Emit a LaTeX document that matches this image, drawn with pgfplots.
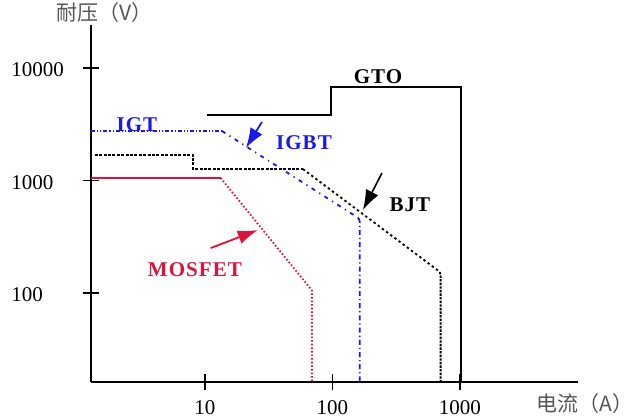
\documentclass[border=0pt]{standalone}
\usepackage{pgfplots}
\pgfplotsset{compat=1.18}
\usetikzlibrary{arrows.meta}
\usepackage{fontspec}
\setmainfont{Liberation Serif}
\newfontfamily\cjk{Noto Sans CJK SC}
\newfontfamily\lbl[LetterSpace=5]{Liberation Serif}
\definecolor{igbtblue}{RGB}{25,25,235}
\definecolor{mosred}{RGB}{220,20,60}
\definecolor{labgray}{RGB}{85,85,85}
\begin{document}
\begin{tikzpicture}
\useasboundingbox (-45.5pt,-17.5pt) rectangle (274.5pt,191pt);
\begin{axis}[
  at={(0,0)}, anchor=south west,
  scale only axis, width=243.5pt, height=178.5pt,
  xmode=log, ymode=log,
  xmin=1.28, xmax=8420, ymin=16.2, ymax=24100,
  axis x line*=bottom, axis y line*=left,
  axis line style={line width=1pt},
  xtick={10,100,1000}, xticklabels={10,100,1000},
  ytick={100,1000,10000}, yticklabels={100,1000,10000},
  xminorticks=false, yminorticks=false,
  tick align=center, major tick length=8pt,
  major tick style={black, line width=0.9pt},
  tick label style={font=\fontsize{10.5}{12}\selectfont},
  yticklabel style={anchor=west, xshift=-36pt, yshift=-1pt, inner xsep=0pt},
  xticklabel style={yshift=-1.5pt},
  clip=false,
]
% GTO
\addplot[black, line width=1.1pt] coordinates {(10.37,3820) (97.3,3820) (97.3,6780) (1018,6780) (1018,16.2)};
% IGT / IGBT
\addplot[igbtblue, line width=0.9pt, dash pattern=on 2pt off 1pt on 0.6pt off 1pt on 0.6pt off 1pt] coordinates {(1.28,2755) (13.6,2755)};
\addplot[igbtblue, line width=0.9pt, dash pattern=on 2pt off 2.5pt on 0.6pt off 2.5pt] coordinates {(13.6,2755) (160,464)};
\addplot[igbtblue, line width=0.9pt, dash pattern=on 2.5pt off 1.5pt on 0.6pt off 1.5pt] coordinates {(160,464) (164,430) (164,16.2)};
% BJT
\addplot[black, line width=0.9pt, dash pattern=on 1.5pt off 0.7pt] coordinates {(1.37,1686) (8.05,1686) (8.05,1265) (58.7,1265)};
\addplot[black, line width=0.9pt, dash pattern=on 1.2pt off 1.4pt] coordinates {(58.7,1265) (696,154)};
\addplot[black, line width=0.9pt, dash pattern=on 1.2pt off 0.6pt] coordinates {(696,154) (705,140) (705,16.2)};
% MOSFET
\addplot[mosred, line width=1pt] coordinates {(1.28,1052) (13.3,1052)};
\addplot[mosred, line width=0.9pt, dash pattern=on 0.8pt off 1pt] coordinates {(13.3,1052) (66.6,111) (69,105) (69,16.2)};
% labels
\node[text=black, font=\lbl\bfseries\fontsize{10.5}{12}\selectfont] at (axis cs:227.5,8318) {GTO};
\node[text=igbtblue, font=\lbl\bfseries\fontsize{10.5}{12}\selectfont] at (axis cs:2.93,3112) {IGT};
\node[text=igbtblue, font=\lbl\bfseries\fontsize{10.5}{12}\selectfont] at (axis cs:59.8,2154) {IGBT};
\node[text=black, font=\lbl\bfseries\fontsize{10.5}{12}\selectfont] at (axis cs:405,605) {BJT};
\node[text=mosred, font=\lbl\bfseries\fontsize{10.5}{12}\selectfont] at (axis cs:8.35,160) {MOSFET};
% axis titles
\node[text=labgray, font=\cjk\fontsize{10.5}{12}\selectfont, anchor=center] at (rel axis cs:0.028,1.0336) {耐压（V）};
\node[text=labgray, font=\cjk\fontsize{10.5}{12}\selectfont, anchor=center] at (rel axis cs:1.0144,-0.0616) {电流（A）};
% arrows
\draw[igbtblue, line width=0.9pt, -{Latex[length=10pt,width=7pt]}] (axis cs:28.0,3311) -- (axis cs:20.97,1945);
\draw[black, line width=0.8pt, -{Latex[length=10pt,width=7pt]}] (axis cs:244.5,1166) -- (axis cs:173.4,547);
\draw[mosred, line width=0.9pt, -{Latex[length=10pt,width=7pt]}] (axis cs:11.1,251) -- (axis cs:26.0,363);
\end{axis}
\end{tikzpicture}
\end{document}
